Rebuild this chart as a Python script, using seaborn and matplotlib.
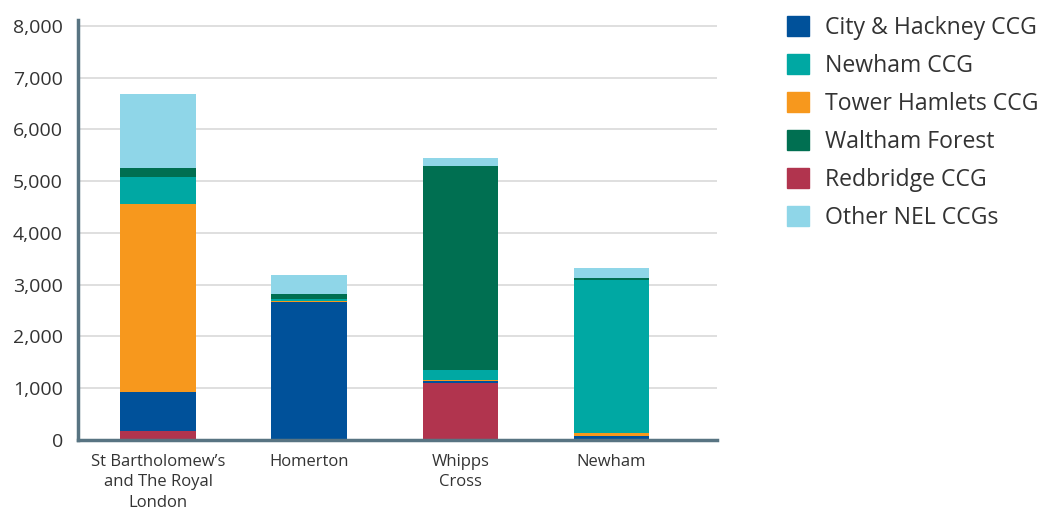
import pandas as pd
import matplotlib.pyplot as plt
import matplotlib.patches as mpatches
import seaborn as sns

sites = ["St Bartholomew\u2019s\nand The Royal\nLondon", "Homerton", "Whipps\nCross", "Newham"]

# stacking order bottom -> top
redbridge = [170, 0, 1096, 0]
city_hackney = [750, 2660, 52, 73]
tower_hamlets = [3630, 20, 10, 58]
newham = [520, 50, 200, 2965]
waltham = [190, 85, 3935, 39]
other = [1430, 380, 155, 193]

series = ["Redbridge CCG", "City & Hackney CCG", "Tower Hamlets CCG",
          "Newham CCG", "Waltham Forest", "Other NEL CCGs"]
values = [redbridge, city_hackney, tower_hamlets, newham, waltham, other]
colors = {"City & Hackney CCG": "#00519a", "Newham CCG": "#00a8a3",
          "Tower Hamlets CCG": "#f7981d", "Waltham Forest": "#006f51",
          "Redbridge CCG": "#b1344e", "Other NEL CCGs": "#8fd6e8"}
legend_order = ["City & Hackney CCG", "Newham CCG", "Tower Hamlets CCG",
                "Waltham Forest", "Redbridge CCG", "Other NEL CCGs"]

sns.set_style("white")
plt.rcParams["font.family"] = ["Open Sans", "DejaVu Sans"]

df = pd.DataFrame({s: v for s, v in zip(series, values)})
cum = df[series].cumsum(axis=1)
cum["site"] = sites

fig = plt.figure(figsize=(10.41, 5.09), dpi=100)
ax = fig.add_axes([0.075, 0.1356, 0.614, 0.825])

# draw cumulative totals from top layer down so each band shows
for s in reversed(series):
    sns.barplot(data=cum, x="site", y=s, color=colors[s], width=0.5,
                saturation=1, linewidth=0, edgecolor="none", ax=ax, zorder=2)

ax.set_xlim(-0.53, 3.70)
ax.set_ylim(0, 8110)
ax.set_yticks(range(0, 8001, 1000))
ax.set_yticklabels([f"{v:,}" for v in range(0, 8001, 1000)])
ax.yaxis.grid(True, color="#d9d9d9", linewidth=1.2, zorder=0)
ax.set_axisbelow(True)
ax.set_xlabel("")
ax.set_ylabel("")
for side in ["top", "right"]:
    ax.spines[side].set_visible(False)
for side in ["left", "bottom"]:
    ax.spines[side].set_color("#587482")
    ax.spines[side].set_linewidth(2.5)
ax.tick_params(axis="y", length=0, labelsize=14, labelcolor="#333333", pad=11)
ax.tick_params(axis="x", length=0, labelsize=12, labelcolor="#333333", pad=10)
for t in ax.get_xticklabels():
    t.set_linespacing(1.36)

handles = [mpatches.Patch(color=colors[s], label=s) for s in legend_order]
leg = fig.legend(handles=handles, loc="upper left", bbox_to_anchor=(0.756, 0.969),
                 frameon=False, fontsize=16.6, handlelength=0.94, handleheight=0.94,
                 handletextpad=0.69, labelspacing=0.61, borderpad=0, borderaxespad=0)
for t in leg.get_texts():
    t.set_color("#333333")

fig.savefig("out.png", dpi=100)
